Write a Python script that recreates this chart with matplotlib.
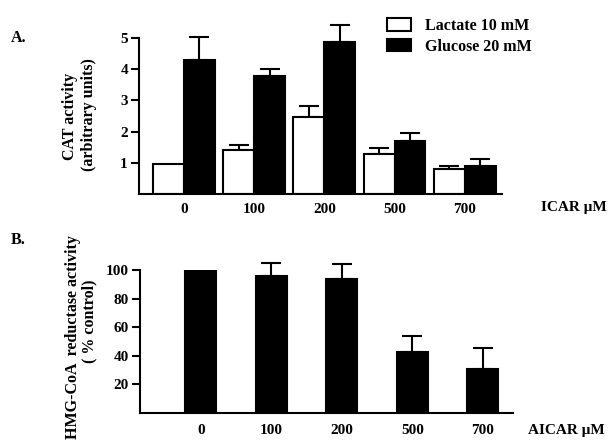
import numpy as np
import matplotlib
matplotlib.use('Agg')
import matplotlib.pyplot as plt
from matplotlib.patches import Patch

plt.rcParams['font.family'] = ['Liberation Serif', 'DejaVu Serif']
plt.rcParams['font.weight'] = 'bold'
plt.rcParams['font.size'] = 11

# AICAR doses
doses = ['0', '100', '200', '500', '700']

# panel A: CAT activity (arbitrary units)
lactate = [0.97, 1.41, 2.47, 1.28, 0.80]
lactate_err = [0.0, 0.16, 0.35, 0.19, 0.10]
glucose = [4.29, 3.78, 4.87, 1.70, 0.90]
glucose_err = [0.74, 0.22, 0.55, 0.25, 0.22]

# panel B: HMG-CoA reductase activity (% control)
hmg = [101, 96, 93.7, 42.7, 30.8]
hmg_err = [0, 9, 10.3, 11.1, 14.7]

LW = 1.5
W = 0.44

fig = plt.figure(figsize=(6.08, 4.40), dpi=100)


def style_axes(ax):
    for s in ['top', 'right']:
        ax.spines[s].set_visible(False)
    for s in ['left', 'bottom']:
        ax.spines[s].set_linewidth(LW)
    ax.tick_params(axis='y', direction='out', length=6, width=LW, pad=2)
    ax.tick_params(axis='x', length=0)


def draw_err(ax, x, y, err):
    # only upward error bars, skip the ones with no error
    x = np.asarray(x)
    y = np.asarray(y, dtype=float)
    err = np.asarray(err, dtype=float)
    m = err > 0
    ax.errorbar(x[m], y[m], yerr=[np.zeros(m.sum()), err[m]], fmt='none',
                ecolor='black', elinewidth=LW, capsize=7, capthick=LW,
                clip_on=False, zorder=1)


# ---- panel A ----
axA = fig.add_axes([139 / 608, 1 - 194 / 440, (502 - 139) / 608, 156 / 440])
xA = np.arange(len(doses))
axA.bar(xA - W / 2, lactate, W, color='white', edgecolor='black', linewidth=LW, zorder=2)
axA.bar(xA + W / 2, glucose, W, color='black', edgecolor='black', linewidth=LW, zorder=2)
draw_err(axA, xA - W / 2, lactate, lactate_err)
draw_err(axA, xA + W / 2, glucose, glucose_err)
axA.set_xlim(-0.64, 4.53)
axA.set_ylim(0, 5)
axA.set_yticks([1, 2, 3, 4, 5])
axA.set_xticks(xA)
axA.set_xticklabels(doses)
style_axes(axA)
axA.tick_params(axis='x', pad=6.5)

handles = [Patch(facecolor='white', edgecolor='black', linewidth=LW, label='Lactate 10 mM'),
           Patch(facecolor='black', edgecolor='black', linewidth=LW, label='Glucose 20 mM')]
fig.legend(handles=handles, loc='upper left', bbox_to_anchor=(379 / 608, 1 - 10 / 440),
           frameon=False, borderpad=0, handlelength=1.5, handleheight=0.8,
           handletextpad=0.9, labelspacing=0.3, fontsize=11.5)

fig.text(11 / 608, 1 - 38 / 440, 'A.', ha='left', va='center', fontsize=11.5)
fig.text(70 / 608, 1 - 116 / 440, 'CAT activity', rotation=90, ha='center', va='center', fontsize=11.5)
fig.text(89 / 608, 1 - 115 / 440, '(arbitrary units)', rotation=90, ha='center', va='center', fontsize=11.5)
fig.text(541 / 608, 1 - 208 / 440, 'ICAR \u03bcM', ha='left', va='center')

# ---- panel B ----
axB = fig.add_axes([140 / 608, 1 - 413 / 440, (513 - 140) / 608, 143 / 440])
xB = np.arange(len(doses))
axB.bar(xB, hmg, W, color='black', edgecolor='black', linewidth=LW, zorder=2)
draw_err(axB, xB, hmg, hmg_err)
axB.set_xlim(-0.865, 4.43)
axB.set_ylim(0, 100)
axB.set_yticks([20, 40, 60, 80, 100])
axB.set_xticks(xB)
axB.set_xticklabels(doses)
style_axes(axB)
axB.tick_params(axis='x', pad=8)

fig.text(11 / 608, 1 - 240 / 440, 'B.', ha='left', va='center', fontsize=11.5)
fig.text(73 / 608, 1 - 337 / 440, 'HMG-CoA  reductase activity', rotation=90, ha='center', va='center', fontsize=11.5)
fig.text(89 / 608, 1 - 321 / 440, '( % control)', rotation=90, ha='center', va='center', fontsize=11.5)
fig.text(528 / 608, 1 - 430 / 440, 'AICAR \u03bcM', ha='left', va='center')

fig.savefig('out.png', dpi=100)
